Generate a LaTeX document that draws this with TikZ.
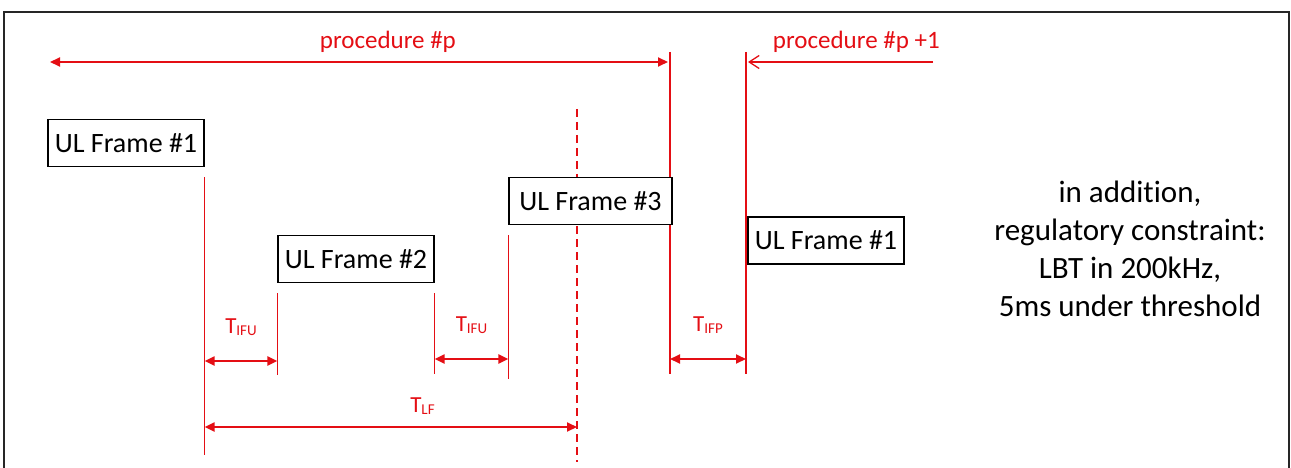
\documentclass[tikz,border=0pt]{standalone}
\usepackage{fontspec}
\setmainfont{Carlito}[Ligatures=NoCommon]
\usetikzlibrary{arrows.meta,positioning,backgrounds,calc}
\definecolor{tred}{RGB}{228,14,20}
\newcommand{\Tsub}[1]{T\raisebox{-2pt}{\fontsize{15}{15}\selectfont #1}}

\begin{document}
\begin{tikzpicture}[
  x=1pt, y=-1pt,
  >={Triangle[length=10pt,width=9pt]},
  ulbox/.style={
    draw=black, fill=white, line width=1.2pt,
    minimum width=156pt, minimum height=47pt, inner sep=2pt,
    font=\fontsize{28}{32}\selectfont
  },
  tickline/.style={draw=tred, line width=1.6pt},
  gapline/.style={tickline, dash pattern=on 8pt off 5pt},
  dimarr/.style={<->, draw=tred, line width=2pt},
  openarr/.style={-{Straight Barb[length=10pt,width=13pt,line width=1.3pt]},
    draw=tred, line width=1.8pt},
  timelbl/.style={text=tred, font=\fontsize{23}{26}\selectfont, inner sep=1pt},
  proclbl/.style={text=tred, font=\fontsize{25}{28}\selectfont, inner sep=1pt},
  notelbl/.style={align=center, font=\fontsize{31}{38}\selectfont}
]

\useasboundingbox (0,0) rectangle (1291,468);
\draw[line width=2pt, draw=black!85] (4,12) rectangle (1289,490);

% =============================================================
% UL frames
% =============================================================
\node[ulbox] (f1) at (126,143) {UL Frame \#1};
\node[ulbox] (f2) at (356,259) {UL Frame \#2};
\node[ulbox, minimum width=163pt] (f3) at (590.5,201) {UL Frame \#3};
\node[ulbox] (f4) at (826,240.5) {UL Frame \#1};

% note on the right
\node[notelbl] (note) at (1130,249)
   {in addition,\\regulatory constraint:\\LBT in 200kHz,\\5ms under threshold};

% =============================================================
% time marks
% =============================================================
\coordinate (t1) at ($(f1.south east)+(0,10)$);
\coordinate (t2) at ($(f2.south west)+(0,10)$);
\coordinate (t3) at ($(f2.south east)+(0,10)$);
\coordinate (t4) at ($(f3.south west)+(0,10)$);
\coordinate (lf)    at (577,109);
\coordinate (pEnd)  at (670,52);
\coordinate (pNext) at (746,52);

% levels of the dimension arrows
\coordinate (lvlProc) at (0,62);
\coordinate (lvlA) at (0,361);
\coordinate (lvlB) at (0,359);
\coordinate (lvlC) at (0,427);

\begin{scope}[on background layer]
\draw[tickline] (t1) -- (t1 |- 0,455);
\draw[tickline] (t2) -- (t2 |- 0,375);
\draw[tickline] (t3) -- (t3 |- 0,374);
\draw[tickline] (t4) -- (t4 |- 0,379);
\draw[gapline]  (lf) -- (lf |- 0,462);
\draw[tickline] (pEnd) -- (pEnd |- 0,374);
\draw[tickline] (pNext) -- (pNext |- 0,374);
\end{scope}

% =============================================================
% arrows
% =============================================================

% procedure #p
\coordinate (procL) at (50,62);
\draw[dimarr, shorten >=2pt] (procL) --
   node[proclbl, pos=0.545, yshift=20pt] {procedure \#p} (pEnd |- lvlProc);

% procedure #p +1
\coordinate (procR) at (933,62);
\draw[openarr, shorten >=2pt] (procR) --
   node[proclbl, pos=0.41, yshift=20pt] {procedure \#p +1} (pNext |- lvlProc);

% inter-frame gaps
\draw[dimarr] (t1 |- lvlA) --
   node[timelbl, midway, yshift=34pt] {\Tsub{IFU}} (t2 |- lvlA);
\draw[dimarr] (t3 |- lvlB) --
   node[timelbl, midway, yshift=34pt] {\Tsub{IFU}} (t4 |- lvlB);
\draw[dimarr] (pEnd |- lvlB) --
   node[timelbl, midway, yshift=34pt] {\Tsub{IFP}} (pNext |- lvlB);

% last frame
\draw[dimarr] (t1 |- lvlC) --
   node[timelbl, pos=0.585, yshift=21pt] {\Tsub{LF}} (lf |- lvlC);

\end{tikzpicture}
\end{document}
